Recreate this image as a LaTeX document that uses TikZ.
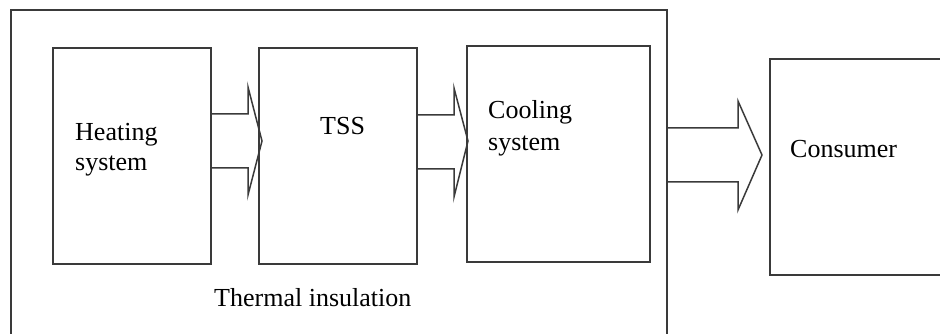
\documentclass[tikz,border=0pt]{standalone}
\usepackage{fontspec}
\setmainfont{Liberation Serif}
\usetikzlibrary{calc}
\definecolor{ln}{HTML}{3A3A3A}
\tikzset{
  box/.style={draw=ln, line width=1.7pt, minimum width=#1, inner sep=0pt, anchor=north west},
  lbl/.style={anchor=base west, inner sep=0pt, font=\fontsize{26}{30}\selectfont, text=black},
  blockarrow/.style={draw=ln, line width=1.5pt, line join=miter}
}
\begin{document}
\begin{tikzpicture}[x=1pt,y=-1pt]
\useasboundingbox (0,0) rectangle (940,334);
% outer thermal insulation frame (open at the bottom)
\coordinate (fbl) at (11,336);
\coordinate (ftl) at (11,10);
\coordinate (ftr) at (667,10);
\coordinate (fbr) at (667,336);
\draw[draw=ln, line width=1.7pt] (fbl) -- (ftl) -- (ftr) -- (fbr);
% boxes
\node[box=158pt, minimum height=216pt] (heat) at (52,47) {};
\node[box=158pt, minimum height=216pt] (tss) at (258,47) {};
\node[box=183pt, minimum height=216pt] (cool) at (466,45) {};
% consumer box, cut by the right edge
\coordinate (ctr) at (942,59);
\coordinate (cbr) at (942,275);
\coordinate (cbl) at (770,275);
\coordinate (ctl) at (770,59);
\draw[draw=ln, line width=1.7pt] (ctr) -- (ctl) -- (cbl) -- (cbr);
% arrows
\draw[blockarrow] (heat.east |- 0,114) -- (248,114) -- (248,87) -- (262,141) -- (248,195) -- (248,168) -- (heat.east |- 0,168);
\draw[blockarrow] (tss.east |- 0,115) -- (454,115) -- (454,88) -- (468,141) -- (454,197) -- (454,169) -- (tss.east |- 0,169);
\draw[blockarrow] (ftr |- 0,182) -- (ftr |- 0,128) -- (738,128) -- (738,101) -- (762,155) -- (738,210) -- (738,182) -- cycle;
% labels
\node[lbl] (t1) at (75,141) {Heating};
\node[lbl] (t2) at (75,171) {system};
\node[lbl] (t3) at (320,135) {TSS};
\node[lbl] (t4) at (488,119) {Cooling};
\node[lbl] (t5) at (488,150) {system};
\node[lbl] (t6) at (790,158) {Consumer};
\node[lbl] (t7) at (214,306) {Thermal insulation};
\end{tikzpicture}
\end{document}
